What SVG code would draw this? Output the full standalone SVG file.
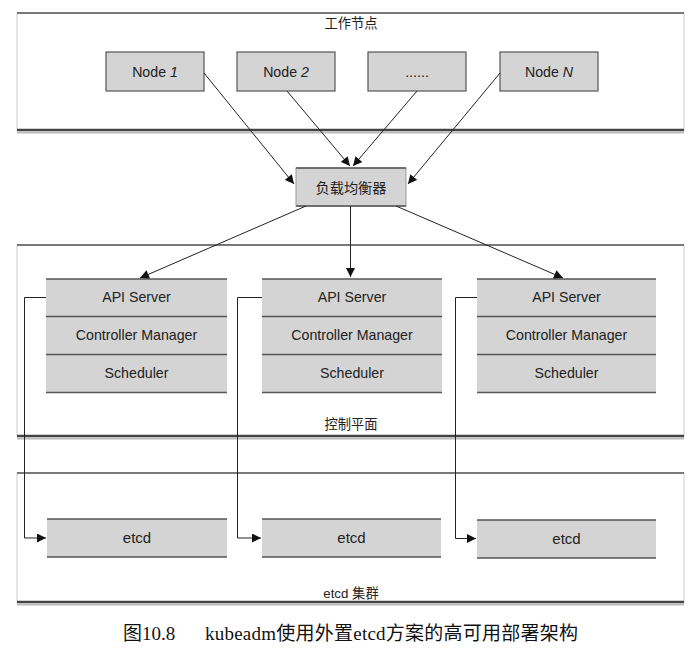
<svg xmlns="http://www.w3.org/2000/svg" width="700" height="650" viewBox="0 0 700 650">
<style>
.lbl{font-family:"Liberation Sans","Noto Sans CJK SC",sans-serif;font-size:14.2px;fill:#222;text-anchor:middle}
.et{font-size:15px}
.ttl{font-family:"Liberation Sans","Noto Sans CJK SC",sans-serif;font-size:13.3px;fill:#222;text-anchor:middle}
.cap{font-family:"Liberation Serif","Noto Sans CJK SC",serif;font-size:19px;fill:#111}
.panel{fill:#fff;stroke:#ccc;stroke-width:1}
.ptop{stroke:#555;stroke-width:1.5}
.pbot{stroke:#444;stroke-width:2.5}
.pshadow{stroke:#bbb;stroke-width:2}
.box{fill:#d4d4d4;stroke:#555;stroke-width:1.2}
.row{fill:#d4d4d4;stroke:none}
.hl{stroke:#555;stroke-width:1.5}
.conn{fill:none;stroke:#222;stroke-width:1}
</style>
<defs>
<marker id="ah" viewBox="0 0 10 10" refX="10" refY="5" markerWidth="10" markerHeight="9" markerUnits="userSpaceOnUse" orient="auto">
<path d="M0,0 L10,5 L0,10 z" fill="#111"/>
</marker>
</defs>
<rect width="700" height="650" fill="#fff"/>

<g id="panel-workers">
<rect class="panel" x="17" y="13" width="667" height="117"/>
<line class="ptop" x1="17" y1="13" x2="684" y2="13"/>
<line class="pbot" x1="17" y1="130" x2="684" y2="130"/>
<line class="pshadow" x1="17" y1="132.5" x2="684" y2="132.5"/>
<text class="ttl" x="351" y="27.5">工作节点</text>
</g>
<g id="panel-control">
<rect class="panel" x="17" y="245" width="667" height="191"/>
<line class="ptop" x1="17" y1="245" x2="684" y2="245"/>
<line class="pbot" x1="17" y1="436" x2="684" y2="436"/>
<line class="pshadow" x1="17" y1="438.5" x2="684" y2="438.5"/>
<text class="ttl" x="351" y="428.5">控制平面</text>
</g>
<g id="panel-etcd">
<rect class="panel" x="17" y="473" width="667" height="129"/>
<line class="ptop" x1="17" y1="473" x2="684" y2="473"/>
<line class="pbot" x1="17" y1="602" x2="684" y2="602"/>
<line class="pshadow" x1="17" y1="604.5" x2="684" y2="604.5"/>
<text class="ttl" x="351" y="597.5">etcd 集群</text>
</g>

<g id="node1"><rect class="box" x="106" y="52" width="98" height="39"/><text class="lbl" x="155" y="77">Node <tspan font-style="italic">1</tspan></text></g>
<g id="node2"><rect class="box" x="237" y="52" width="98" height="39"/><text class="lbl" x="286" y="77">Node <tspan font-style="italic">2</tspan></text></g>
<g id="node-more"><rect class="box" x="368" y="52" width="98" height="39"/><text class="lbl" x="417" y="77">......</text></g>
<g id="nodeN"><rect class="box" x="500" y="52" width="98" height="39"/><text class="lbl" x="549" y="77">Node <tspan font-style="italic">N</tspan></text></g>

<g id="lb">
<rect x="296" y="168" width="110" height="38" fill="#d4d4d4" stroke="#999" stroke-width="1"/>
<line class="hl" x1="296" y1="168" x2="406" y2="168"/>
<line class="hl" x1="296" y1="206" x2="406" y2="206"/>
<text class="lbl" x="351" y="193">负载均衡器</text>
</g>

<g id="cp1">
<rect class="row" x="46" y="279" width="181" height="113"/>
<line class="hl" x1="46" y1="279" x2="227" y2="279"/><line class="hl" x1="46" y1="316.5" x2="227" y2="316.5"/><line class="hl" x1="46" y1="354.5" x2="227" y2="354.5"/><line class="hl" x1="46" y1="392.5" x2="227" y2="392.5"/>
<text class="lbl" x="136.5" y="302">API Server</text><text class="lbl" x="136.5" y="340">Controller Manager</text><text class="lbl" x="136.5" y="378">Scheduler</text>
</g>
<g id="cp2">
<rect class="row" x="262" y="279" width="180" height="113"/>
<line class="hl" x1="262" y1="279" x2="442" y2="279"/><line class="hl" x1="262" y1="316.5" x2="442" y2="316.5"/><line class="hl" x1="262" y1="354.5" x2="442" y2="354.5"/><line class="hl" x1="262" y1="392.5" x2="442" y2="392.5"/>
<text class="lbl" x="352" y="302">API Server</text><text class="lbl" x="352" y="340">Controller Manager</text><text class="lbl" x="352" y="378">Scheduler</text>
</g>
<g id="cp3">
<rect class="row" x="477" y="279" width="179" height="113"/>
<line class="hl" x1="477" y1="279" x2="656" y2="279"/><line class="hl" x1="477" y1="316.5" x2="656" y2="316.5"/><line class="hl" x1="477" y1="354.5" x2="656" y2="354.5"/><line class="hl" x1="477" y1="392.5" x2="656" y2="392.5"/>
<text class="lbl" x="566.5" y="302">API Server</text><text class="lbl" x="566.5" y="340">Controller Manager</text><text class="lbl" x="566.5" y="378">Scheduler</text>
</g>

<g id="etcd1"><rect class="row" x="47" y="519" width="180" height="38"/><line class="hl" x1="47" y1="519" x2="227" y2="519"/><line class="hl" x1="47" y1="557" x2="227" y2="557"/><text class="lbl et" x="137" y="543">etcd</text></g>
<g id="etcd2"><rect class="row" x="262" y="519" width="179" height="38"/><line class="hl" x1="262" y1="519" x2="441" y2="519"/><line class="hl" x1="262" y1="557" x2="441" y2="557"/><text class="lbl et" x="351.5" y="543">etcd</text></g>
<g id="etcd3"><rect class="row" x="477" y="520" width="179" height="38"/><line class="hl" x1="477" y1="520" x2="656" y2="520"/><line class="hl" x1="477" y1="558" x2="656" y2="558"/><text class="lbl et" x="566.5" y="544">etcd</text></g>

<g id="connectors">
<line class="conn" x1="204" y1="73" x2="294" y2="184" marker-end="url(#ah)"/>
<line class="conn" x1="287" y1="91" x2="350" y2="166" marker-end="url(#ah)"/>
<line class="conn" x1="417" y1="91" x2="353" y2="166" marker-end="url(#ah)"/>
<line class="conn" x1="500" y1="73" x2="408" y2="184" marker-end="url(#ah)"/>
<line class="conn" x1="306" y1="206" x2="140" y2="278" marker-end="url(#ah)"/>
<line class="conn" x1="350.5" y1="206" x2="350.5" y2="277" marker-end="url(#ah)"/>
<line class="conn" x1="396" y1="206" x2="563" y2="278" marker-end="url(#ah)"/>
<polyline class="conn" points="46,297.5 24.5,297.5 24.5,538 46,538" marker-end="url(#ah)"/>
<polyline class="conn" points="262,297.5 237.5,297.5 237.5,538 261,538" marker-end="url(#ah)"/>
<polyline class="conn" points="477,297.5 455.5,297.5 455.5,538.5 476,538.5" marker-end="url(#ah)"/>
</g>

<text class="cap" x="123" y="640">图10.8<tspan x="205" textLength="373" lengthAdjust="spacing">kubeadm使用外置etcd方案的高可用部署架构</tspan></text>
</svg>
